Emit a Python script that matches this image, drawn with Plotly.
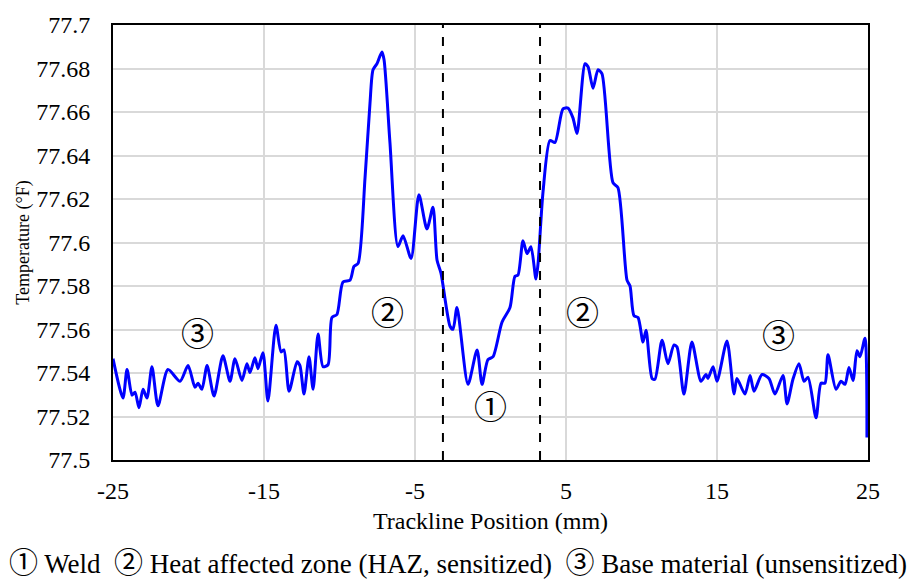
import plotly.graph_objects as go

position_mm = [
    -25.0, -24.34, -24.07, -23.74, -23.54, -23.28, -23.01, -22.75, -22.42, -22.02,
    -21.36, -20.56, -20.03, -19.57, -19.37, -19.11, -18.77, -18.31, -17.72, -17.25,
    -16.92, -16.46, -16.13, -15.93, -15.60, -15.40, -15.07, -14.74, -14.21, -13.87,
    -13.68, -13.34, -12.81, -12.62, -12.35, -12.02, -11.75, -11.42, -11.09, -10.76,
    -10.50, -10.17, -9.77, -9.30, -9.04, -8.77, -8.31, -7.98, -7.78, -7.52,
    -7.19, -7.05, -6.66, -6.13, -5.79, -5.26, -4.74, -4.21, -3.81, -3.54,
    -3.28, -2.68, -2.48, -2.22, -1.49, -0.89, -0.56, -0.17, 0.17, 0.76,
    1.29, 1.62, 1.82, 2.15, 2.42, 2.68, 3.01, 3.15, 3.48, 3.94,
    4.27, 4.80, 5.13, 5.46, 5.73, 6.26, 6.46, 6.79, 7.12, 7.38,
    8.11, 8.44, 9.04, 9.24, 9.50, 9.77, 10.10, 10.30, 10.70, 10.89,
    11.36, 11.75, 12.15, 12.35, 12.81, 13.34, 13.94, 14.27, 14.40, 14.74,
    15.00, 15.66, 16.13, 16.32, 16.85, 17.19, 17.45, 17.98, 18.44, 18.84,
    19.37, 19.64, 20.03, 20.43, 20.76, 21.03, 21.56, 21.89, 22.15, 22.35,
    22.88, 23.21, 23.48, 23.74, 24.01, 24.27, 24.47, 24.80, 24.93,
]

temperature_f = [
    77.5466, 77.5285, 77.5416, 77.5298, 77.5312, 77.5240, 77.5325, 77.5285, 77.5429, 77.5249,
    77.5416, 77.5362, 77.5434, 77.5334, 77.5353, 77.5325, 77.5434, 77.5294, 77.5479, 77.5362,
    77.5466, 77.5366, 77.5443, 77.5402, 77.5470, 77.5420, 77.5493, 77.5271, 77.5619, 77.5497,
    77.5506, 77.5316, 77.5452, 77.5434, 77.5303, 77.5475, 77.5325, 77.5579, 77.5429, 77.5438,
    77.5655, 77.5669, 77.5818, 77.5827, 77.5890, 77.5904, 77.6297, 77.6641, 77.6794, 77.6822,
    77.6876, 77.6840, 77.6460, 77.5981, 77.6031, 77.5927, 77.6220, 77.6062, 77.6162, 77.5918,
    77.5859, 77.5615, 77.5601, 77.5701, 77.5348, 77.5506, 77.5348, 77.5461, 77.5475, 77.5633,
    77.5701, 77.5845, 77.5850, 77.6008, 77.5949, 77.5981, 77.5832, 77.5904, 77.6234, 77.6469,
    77.6460, 77.6614, 77.6618, 77.6573, 77.6501, 77.6822, 77.6808, 77.6709, 77.6794, 77.6776,
    77.6275, 77.6252, 77.5827, 77.5800, 77.5664, 77.5655, 77.5542, 77.5597, 77.5375, 77.5371,
    77.5551, 77.5443, 77.5529, 77.5520, 77.5303, 77.5542, 77.5362, 77.5393, 77.5375, 77.5429,
    77.5362, 77.5547, 77.5303, 77.5375, 77.5303, 77.5389, 77.5316, 77.5393, 77.5375, 77.5303,
    77.5389, 77.5258, 77.5371, 77.5443, 77.5362, 77.5380, 77.5194, 77.5353, 77.5353, 77.5484,
    77.5325, 77.5362, 77.5348, 77.5425, 77.5366, 77.5502, 77.5475, 77.5560, 77.5104,
]

weld_bounds_mm = [-3.15, 3.28]

x_tickvals = [-25, -15, -5, 5, 15, 25]
x_ticktext = ["-25", "-15", "-5", "5", "15", "25"]
y_tickvals = [77.5, 77.52, 77.54, 77.56, 77.58, 77.6, 77.62, 77.64, 77.66, 77.68, 77.7]
y_ticktext = ["77.5", "77.52", "77.54", "77.56", "77.58", "77.6", "77.62", "77.64", "77.66", "77.68", "77.7"]

zone_labels = ["③", "②", "①", "②", "③"]
zone_x = [-19.4, -6.8, 0.0, 6.1, 19.1]
zone_y = [77.5574, 77.5669, 77.5240, 77.5669, 77.5565]

legend_items = [("①", "Weld"), ("②", "Heat affected zone (HAZ, sensitized)"), ("③", "Base material (unsensitized)")]

SERIF = "Liberation Serif"
CIRC = "Noto Sans CJK JP"

fig = go.Figure()
fig.add_trace(go.Scatter(
    x=position_mm, y=temperature_f, mode="lines",
    line=dict(color="#0000ff", width=3, shape="spline", smoothing=0.7),
    showlegend=False, hoverinfo="x+y",
))

for xb in weld_bounds_mm:
    fig.add_shape(type="line", x0=xb, x1=xb, xref="x", y0=0, y1=1, yref="paper",
                  line=dict(color="black", width=2, dash="dash"))

for lab, xx, yy in zip(zone_labels, zone_x, zone_y):
    fig.add_annotation(x=xx, y=yy, text=lab, showarrow=False, yshift=3,
                       font=dict(family=CIRC, size=33, color="black"))

legend_text = "  ".join(
    f"<span style='font-family:{CIRC};font-size:29px'>{c}</span> {t}" for c, t in legend_items
)
fig.add_annotation(
    xref="paper", yref="paper", x=(458 - 113) / 755, y=-(562 - 460) / 442,
    xanchor="center", yanchor="middle",
    text=legend_text, showarrow=False,
    font=dict(family=SERIF, size=27, color="black"),
)

fig.update_xaxes(
    range=[-25, 25], tickvals=x_tickvals, ticktext=x_ticktext,
    showgrid=True, gridcolor="#d9d9d9", gridwidth=1.5,
    showline=True, linecolor="black", linewidth=2, mirror=True,
    ticks="", zeroline=False, ticklabelstandoff=8,
    tickfont=dict(family=SERIF, size=24, color="black"),
    title=dict(text="Trackline Position (mm)", font=dict(family=SERIF, size=24, color="black"), standoff=9),
)
fig.update_yaxes(
    range=[77.5, 77.7], tickvals=y_tickvals, ticktext=y_ticktext,
    showgrid=True, gridcolor="#d9d9d9", gridwidth=1.5,
    showline=True, linecolor="black", linewidth=2, mirror=True,
    ticks="", zeroline=False, ticklabelstandoff=16,
    tickfont=dict(family=SERIF, size=24, color="black"),
    title=dict(text="Temperature (°F)", font=dict(family=SERIF, size=18, color="black"), standoff=2),
)

fig.update_layout(
    width=907, height=580,
    margin=dict(l=113, r=39, t=18, b=120),
    paper_bgcolor="white", plot_bgcolor="white",
)

fig.write_html("out.html")
